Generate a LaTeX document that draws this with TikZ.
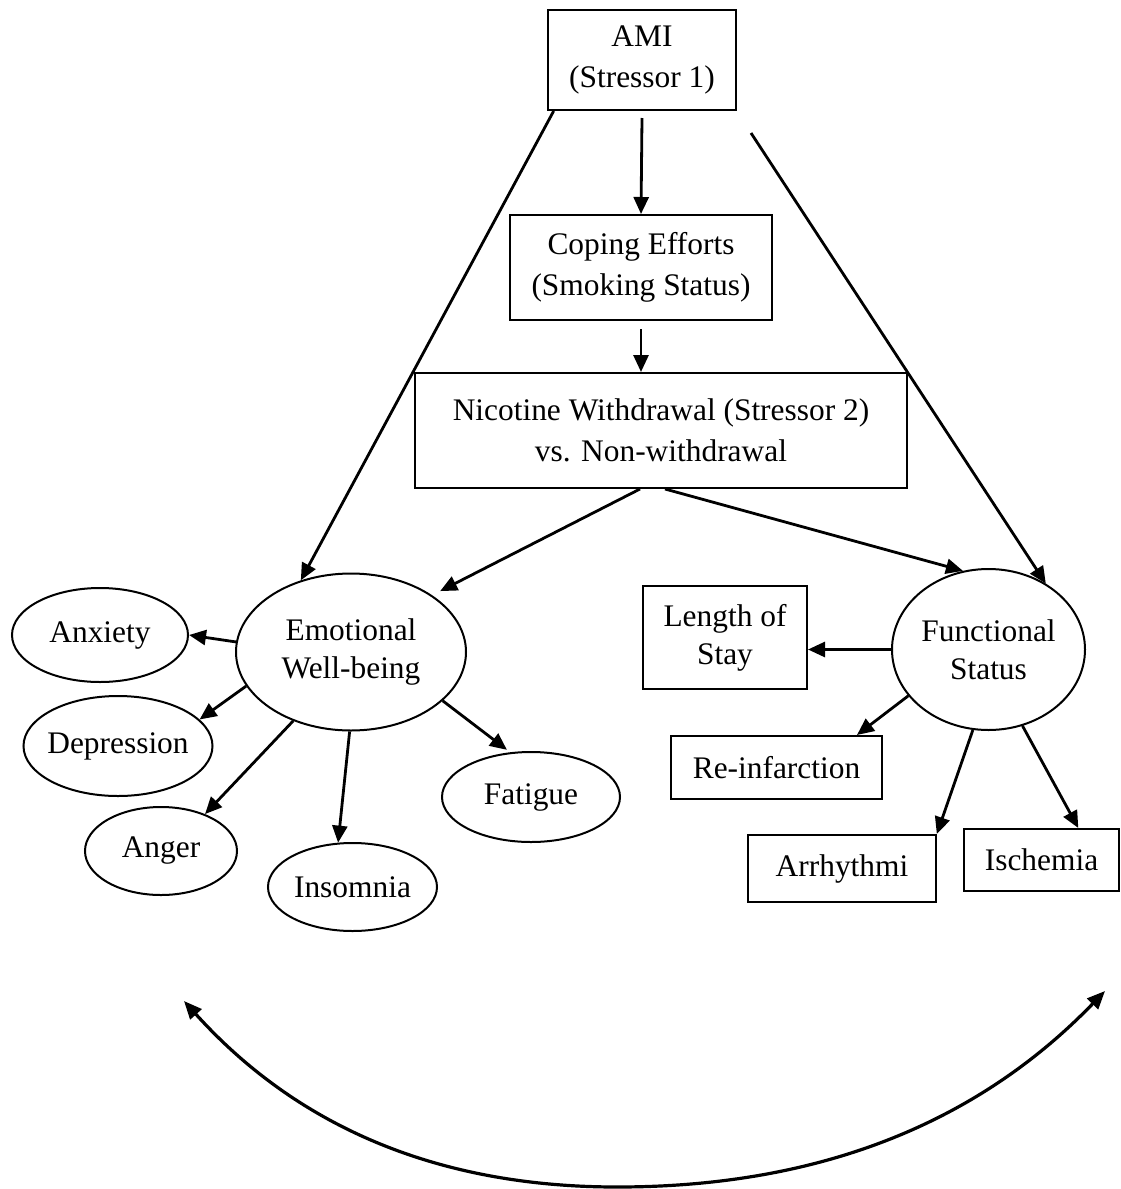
\documentclass[tikz,border=0pt]{standalone}
\usepackage{fontspec}
\setmainfont{Liberation Serif}
\usetikzlibrary{arrows.meta,shapes.geometric,calc}
\begin{document}
\begin{tikzpicture}[x=0.5pt,y=-0.5pt,
  txt/.style={font=\fontsize{15.7}{20.5}\selectfont, align=center},
  tight/.style={font=\fontsize{15.7}{19}\selectfont},
  box/.style={txt, draw, rectangle, line width=1pt, inner sep=0pt},
  oval/.style={txt, draw, ellipse, line width=1pt, inner sep=0pt, inner xsep=-3pt},
  arr/.style={-{Triangle[length=8.5pt,width=7.5pt]}, line width=1.4pt},
  dbl/.style={{Triangle[length=9pt,width=7.5pt]}-{Triangle[length=9pt,width=7.5pt]}, line width=1.6pt}]
\useasboundingbox (0,0) rectangle (1120,1189);

% boxes
\node[box, minimum width=94pt, minimum height=50pt] (ami) at (642,60) {AMI\\(Stressor 1)};
\node[box, minimum width=131pt, minimum height=52.5pt] (cope) at (641,267.5) {Coping Efforts\\(Smoking Status)};
\node[box, minimum width=246pt, minimum height=57.5pt] (nic) at (661,430.5) {Nicotine Withdrawal (Stressor 2)\\vs. Non-withdrawal};

% left cluster
\node[oval, tight, minimum width=115pt, minimum height=78.5pt] (emo) at (351,652) {Emotional\\Well-being};
\node[oval, minimum width=88pt, minimum height=47pt] (anx) at (100,635) {Anxiety};
\node[oval, minimum width=94.5pt, minimum height=50pt] (dep) at (118,746) {Depression};
\node[oval, minimum width=76pt, minimum height=44pt] (ang) at (161,851) {Anger};
\node[oval, minimum width=84.5pt, minimum height=44pt] (ins) at (352.5,887) {Insomnia};
\node[oval, minimum width=89pt, minimum height=45pt] (fat) at (531,797) {Fatigue};

% right cluster
\node[oval, tight, minimum width=96.5pt, minimum height=80.5pt] (fs) at (988.5,649.5) {Functional\\Status};
\node[box, tight, minimum width=82pt, minimum height=51.5pt] (los) at (725,637.5) {Length of\\Stay};
\node[box, minimum width=105.5pt, minimum height=31.5pt] (ri) at (776.5,767.5) {Re-infarction};
\node[box, minimum width=94pt, minimum height=33.5pt] (ar) at (842,868.5) {Arrhythmi};
\node[box, minimum width=77.5pt, minimum height=31pt] (isc) at (1041.5,860) {Ischemia};

% top connectors
\coordinate (amiR) at ($(ami.south east)+(14,22)$);
\draw[arr] (ami.210.5) -- (emo.125.6);
\draw[arr] (amiR) -- (fs.49.8);
\draw[arr] ([yshift=-3.5pt]ami.south) -- (cope.north);
\draw[arr] ([yshift=-4pt]cope.south) -- (cope.south |- nic.north);
\draw[arr, shorten >=4.5pt] ([xshift=-10.5pt]nic.south) -- (emo.35);
\draw[arr] ([xshift=2pt]nic.south) -- (fs.108.5);

% emotional well-being outcomes
\draw[arr] (emo.175.5) -- (anx.east);
\draw[arr] (emo.198.4) -- (dep.18.8);
\draw[arr] (emo.230.8) -- (ang.40.8);
\draw[arr] (emo.269.3) -- (ins.108);
\draw[arr, shorten >=2pt] (emo.332) -- (fat.115);

% functional status outcomes
\draw[arr] (fs.west) -- (fs.west -| los.east);
\draw[arr] (fs.210.7) -- (ri.22.4);
\draw[arr] (fs.259.7) -- (ar.20.8);
\draw[arr] (fs.294.6) -- (isc.41.1);

% bottom reciprocal arc
\coordinate (arcL) at (184,1001);
\coordinate (arcB) at (617,1187);
\coordinate (arcR) at (1105,991);
\draw[dbl] (arcL) .. controls (284,1112) and (417,1187) .. (arcB)
                  .. controls (842,1187) and (992,1108) .. (arcR);
\end{tikzpicture}
\end{document}
